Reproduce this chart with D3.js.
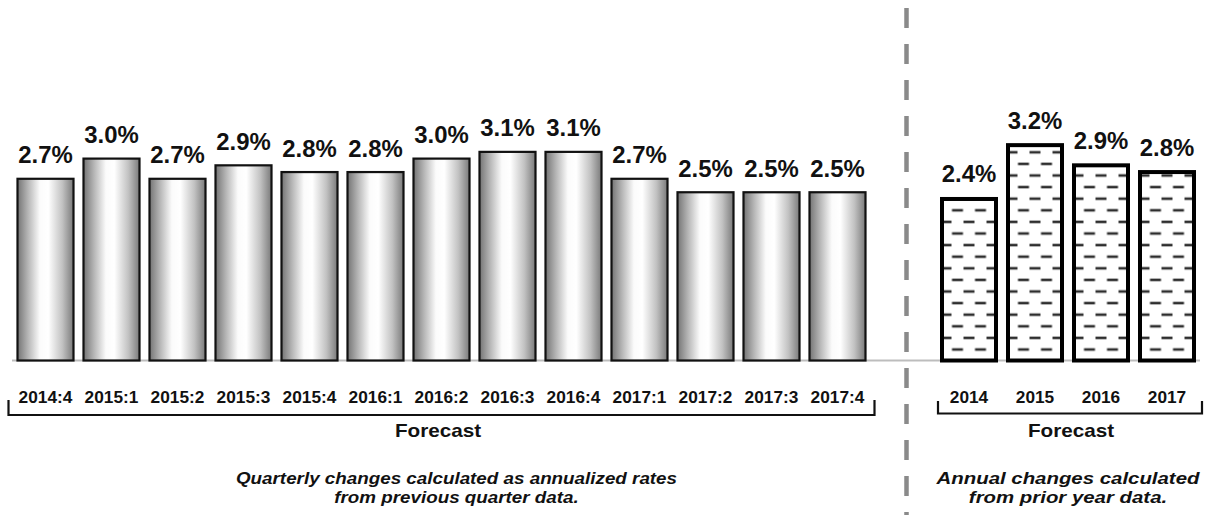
<!DOCTYPE html>
<html>
<head>
<meta charset="utf-8">
<script src="https://cdn.jsdelivr.net/npm/d3@7"></script>
<style>
  html, body { margin: 0; padding: 0; background: #fff; }
  svg { display: block; font-family: "Liberation Sans", Arial, sans-serif; }
</style>
</head>
<body>
<svg id="chart" width="1205" height="515"></svg>
<script>
// Quarterly growth (annualized rates)
const quarters = ["2014:4","2015:1","2015:2","2015:3","2015:4","2016:1","2016:2","2016:3","2016:4","2017:1","2017:2","2017:3","2017:4"];
const quarterlyValues = [2.7, 3.0, 2.7, 2.9, 2.8, 2.8, 3.0, 3.1, 3.1, 2.7, 2.5, 2.5, 2.5];

// Annual growth (from prior year)
const years = ["2014","2015","2016","2017"];
const annualValues = [2.4, 3.2, 2.9, 2.8];

const groupTitle = "Forecast";
const quarterlyNote = ["Quarterly changes calculated as annualized rates", "from previous quarter data."];
const annualNote = ["Annual changes calculated", "from prior year data."];

const svg = d3.select("#chart");
const defs = svg.append("defs");

const base = 360.5;
const y = d3.scaleLinear().domain([0, 4]).range([base, base - 4 * 67.3]);

const xQ = d3.scaleBand().domain(quarters).range([12.5, 870.5])
  .paddingInner(10 / 66).paddingOuter(5 / 66);
const xA = d3.scaleBand().domain(years).range([936, 1200])
  .paddingInner(12 / 66).paddingOuter(6 / 66);

// text is drawn slightly wide: place at (x,y) then stretch horizontally
function place(sel, fx, fy, sx) {
  sel.attr("x", 0).attr("y", 0)
    .attr("transform", (d, i) => `translate(${fx(d, i)},${fy(d, i)}) scale(${sx},1)`);
}

// cylinder-like shading for quarterly bars
const grad = defs.append("linearGradient").attr("id", "cyl")
  .attr("x1", "0%").attr("x2", "100%").attr("y1", "0%").attr("y2", "0%");
[[0, "#747474"], [0.18, "#b3b3b3"], [0.4, "#fbfbfb"], [0.55, "#ffffff"], [0.8, "#c2c2c2"], [1, "#7a7a7a"]]
  .forEach(([o, c]) => grad.append("stop").attr("offset", o).attr("stop-color", c));

// baseline
svg.append("line")
  .attr("x1", 12).attr("x2", 1200).attr("y1", base).attr("y2", base)
  .attr("stroke", "#bdbdbd").attr("stroke-width", 2);

// quarterly bars
svg.append("g").selectAll("rect").data(quarters).join("rect")
  .attr("x", d => xQ(d))
  .attr("y", (d, i) => y(quarterlyValues[i]))
  .attr("width", xQ.bandwidth())
  .attr("height", (d, i) => base - y(quarterlyValues[i]))
  .attr("fill", "url(#cyl)")
  .attr("stroke", "#111").attr("stroke-width", 2.2);

svg.append("g").selectAll("text").data(quarters).join("text")
  .attr("text-anchor", "middle")
  .attr("font-size", 23).attr("font-weight", "bold").attr("fill", "#111")
  .text((d, i) => quarterlyValues[i].toFixed(1) + "%")
  .call(place, d => xQ(d) + xQ.bandwidth() / 2, (d, i) => y(quarterlyValues[i]) - 15.5, 1.04);

// annual bars with dash pattern, one pattern per bar so it is anchored to the bar
const rowGap = 11.6;
years.forEach((yr, i) => {
  const cx = xA(yr) + xA.bandwidth() / 2;
  const p = defs.append("pattern").attr("id", "dash" + i)
    .attr("patternUnits", "userSpaceOnUse")
    .attr("x", cx - 11.5).attr("y", base - 11 - 2 * rowGap + rowGap / 2)
    .attr("width", 23).attr("height", 2 * rowGap);
  const dash = (x1, x2, yy) => p.append("line")
    .attr("x1", x1).attr("x2", x2).attr("y1", yy).attr("y2", yy)
    .attr("stroke", "#2e2e2e").attr("stroke-width", 2.6);
  dash(6, 17, rowGap / 2);
  dash(-5.5, 5.5, rowGap * 1.5);
  dash(17.5, 28.5, rowGap * 1.5);
});

svg.append("g").selectAll("rect").data(years).join("rect")
  .attr("x", d => xA(d))
  .attr("y", (d, i) => y(annualValues[i]))
  .attr("width", xA.bandwidth())
  .attr("height", (d, i) => base - y(annualValues[i]))
  .attr("fill", (d, i) => `url(#dash${i})`)
  .attr("stroke", "#000").attr("stroke-width", 4);

svg.append("g").selectAll("text").data(years).join("text")
  .attr("text-anchor", "middle")
  .attr("font-size", 23).attr("font-weight", "bold").attr("fill", "#111")
  .text((d, i) => annualValues[i].toFixed(1) + "%")
  .call(place, d => xA(d) + xA.bandwidth() / 2, (d, i) => y(annualValues[i]) - 16.5, 1.04);

// category axes (labels only)
const axQ = svg.append("g").attr("transform", `translate(0,${base})`)
  .call(d3.axisBottom(xQ).tickSize(0).tickPadding(0));
const axA = svg.append("g").attr("transform", `translate(0,${base})`)
  .call(d3.axisBottom(xA).tickSize(0).tickPadding(0));
[axQ, axA].forEach(ax => {
  ax.select(".domain").remove();
  ax.selectAll("text")
    .attr("dy", null)
    .attr("font-family", "Liberation Sans, Arial, sans-serif")
    .attr("font-size", 16).attr("font-weight", "bold").attr("fill", "#111")
    .call(place, () => 0, () => 42.5, 1.08);
});

// brackets
function bracket(x0, x1, yTop, yBot) {
  svg.append("path")
    .attr("d", `M${x0},${yTop}V${yBot}H${x1}V${yTop}`)
    .attr("fill", "none").attr("stroke", "#111").attr("stroke-width", 2.2);
}
bracket(8.5, 874.5, 400, 415);
bracket(938, 1202, 401, 413.5);

svg.append("g").selectAll("text").data([438, 1071]).join("text")
  .attr("text-anchor", "middle").attr("font-size", 18).attr("font-weight", "bold").attr("fill", "#111")
  .text(groupTitle)
  .call(place, d => d, () => 437, 1.15);

// notes
function note(lines, cx, y0, size, sx) {
  svg.append("g").selectAll("text").data(lines).join("text")
    .attr("text-anchor", "middle")
    .attr("font-size", size).attr("font-weight", "bold").attr("font-style", "italic").attr("fill", "#111")
    .text(d => d)
    .call(place, () => cx, (d, i) => y0 + i * 18.5, sx);
}
note(quarterlyNote, 456.5, 484, 16.5, 1.14);
note(annualNote, 1068, 484, 17, 1.2);

// separator between quarterly and annual panels
svg.append("line")
  .attr("x1", 906.5).attr("x2", 906.5).attr("y1", 8).attr("y2", 515)
  .attr("stroke", "#8a8a8a").attr("stroke-width", 4.5)
  .attr("stroke-dasharray", "20 16");
</script>
</body>
</html>
